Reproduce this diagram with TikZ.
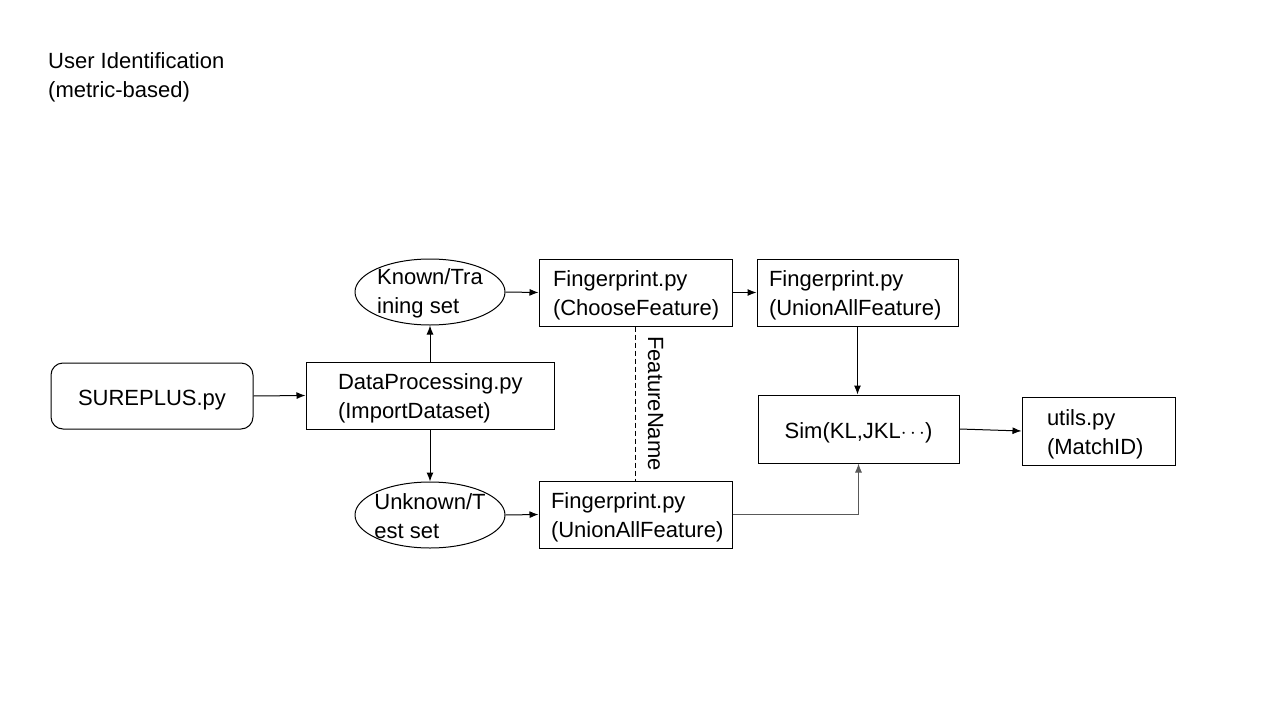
\documentclass[tikz,border=0pt]{standalone}
\usepackage{fontspec}
\setmainfont{Liberation Sans}
\usetikzlibrary{arrows.meta,shapes.geometric}
\newcommand\boxtext[2]{\raisebox{-3pt}[\height][\depth]{\makebox[#1][l]{\begin{tabular}{@{}l@{}}#2\end{tabular}}}}
\newcommand\onetext[1]{\raisebox{-4pt}[\height][\depth]{#1}}
\tikzset{
  txt/.style={font=\fontsize{22}{29}\selectfont},
  box/.style={draw, line width=1pt, txt, inner ysep=0pt},
  oval/.style={draw, ellipse, line width=1pt, inner sep=0pt, minimum width=150pt, minimum height=66pt},
  arr/.style={-{Latex[length=9pt,width=7pt]}, line width=1pt},
  fname/.style={dash pattern=on 5pt off 3pt, line width=0.8pt}
}
\begin{document}
\begin{tikzpicture}[x=1pt,y=-1pt]
\useasboundingbox (0,0) rectangle (1280,720);
\node[txt, anchor=base west, align=left, inner sep=0pt] (title) at (48,97) {User Identification\\(metric-based)};

\node[box, rounded corners=12pt, minimum width=202pt, minimum height=66pt] (sure) at (152,396) {\onetext{SUREPLUS.py}};
\node[box, inner xsep=32pt, minimum height=67pt] (dp) at (430,395.5) {\boxtext{184pt}{DataProcessing.py\\(ImportDataset)}};
\node[oval, label={[txt, align=left, yshift=-1pt]center:Known/Tra\\ining set}] (known) at (430,292) {};
\node[oval, label={[txt, align=left, yshift=-1pt]center:Unknown/T\\est set}] (unknown) at (430,515) {};
\node[box, inner xsep=14pt, minimum height=67pt] (choose) at (635.5,292.5) {\boxtext{165pt}{Fingerprint.py\\(ChooseFeature)}};
\node[box, inner xsep=12pt, minimum height=67pt] (uniontop) at (857.5,292.5) {\boxtext{177pt}{Fingerprint.py\\(UnionAllFeature)}};
\node[box, inner xsep=12pt, minimum height=67pt] (unionbot) at (635.5,514.5) {\boxtext{169pt}{Fingerprint.py\\(UnionAllFeature)}};
\node[box, minimum width=201pt, minimum height=68pt] (sim) at (858.5,429) {\onetext{Sim(KL,JKL$\cdots$)}};
\node[box, inner xsep=25pt, minimum height=68pt] (utils) at (1098.5,431) {\boxtext{103pt}{utils.py\\(MatchID)}};

\draw[arr] (sure.east) -- (dp.west);
\draw[arr] (dp.north) -- (known.south);
\draw[arr] (dp.south) -- (unknown.north);
\draw[arr] (known.east) -- (choose.west);
\draw[arr] (unknown.east) -- (unionbot.west);
\draw[arr] (choose.east) -- (uniontop.west);
\draw[arr] (uniontop.south) -- (uniontop.south |- sim.north);
\draw[arr, draw=black!65] (unionbot.east) -| (sim.south);
\draw[arr] (sim.east) -- (utils.west);
\draw[fname] (choose.south) -- (unionbot.north) node[midway, xshift=20pt, rotate=-90, txt] {FeatureName};
\end{tikzpicture}
\end{document}
